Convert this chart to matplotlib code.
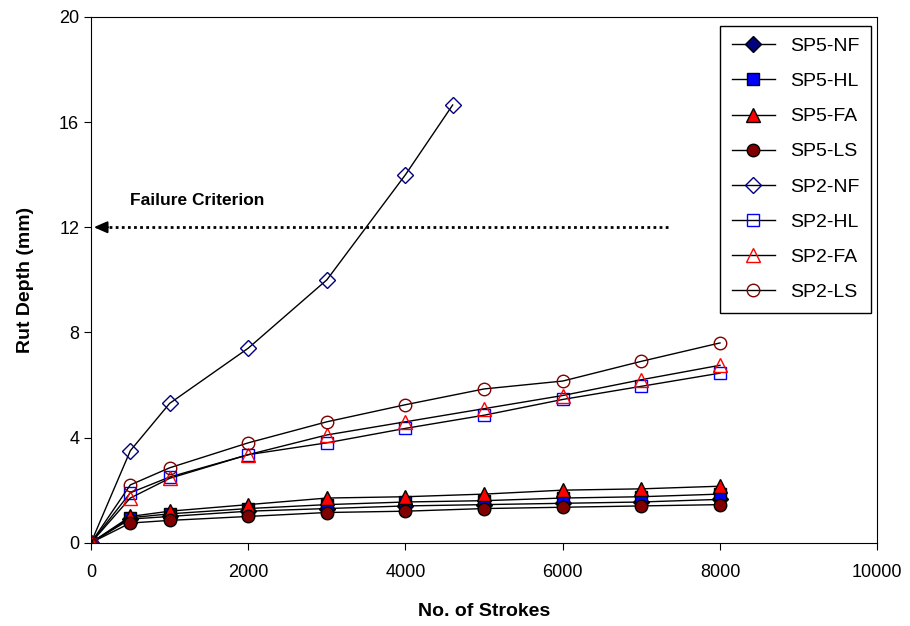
import numpy as np
import matplotlib
matplotlib.use("Agg")
import matplotlib.pyplot as plt

plt.rcParams['font.family'] = ['Liberation Sans', 'DejaVu Sans']

strokes = [0, 500, 1000, 2000, 3000, 4000, 5000, 6000, 7000, 8000]
strokes_sp2_nf = [0, 500, 1000, 2000, 3000, 4000, 4600]

sp5_nf = [0, 0.9, 1.0, 1.2, 1.3, 1.4, 1.45, 1.5, 1.55, 1.65]
sp5_hl = [0, 0.95, 1.1, 1.3, 1.45, 1.55, 1.6, 1.7, 1.75, 1.85]
sp5_fa = [0, 1.0, 1.2, 1.45, 1.7, 1.75, 1.85, 2.0, 2.05, 2.15]
sp5_ls = [0, 0.75, 0.85, 1.0, 1.15, 1.2, 1.3, 1.35, 1.4, 1.45]

sp2_nf = [0, 3.5, 5.3, 7.4, 10.0, 14.0, 16.65]
sp2_hl = [0, 1.9, 2.5, 3.35, 3.8, 4.35, 4.85, 5.45, 5.95, 6.45]
sp2_fa = [0, 1.7, 2.45, 3.35, 4.1, 4.6, 5.1, 5.6, 6.2, 6.75]
sp2_ls = [0, 2.2, 2.85, 3.8, 4.6, 5.25, 5.85, 6.15, 6.9, 7.6]

failure_depth = 12

fig = plt.figure(figsize=(9.1, 6.26), dpi=100)
ax = fig.add_axes([0.1, 0.133, 0.864, 0.84])

# filled markers for SP5, hollow for SP2
ax.plot(strokes, sp5_nf, '-', color='black', lw=1, marker='D', ms=8,
        mfc='#000080', mec='black', label='SP5-NF')
ax.plot(strokes, sp5_hl, '-', color='black', lw=1, marker='s', ms=9,
        mfc='#0000FF', mec='black', label='SP5-HL')
ax.plot(strokes, sp5_fa, '-', color='black', lw=1, marker='^', ms=10.5,
        mfc='#FF0000', mec='black', label='SP5-FA')
ax.plot(strokes, sp5_ls, '-', color='black', lw=1, marker='o', ms=9,
        mfc='#800000', mec='black', label='SP5-LS')
ax.plot(strokes_sp2_nf, sp2_nf, '-', color='black', lw=1, marker='D', ms=8,
        mfc='none', mec='#000080', label='SP2-NF')
ax.plot(strokes, sp2_hl, '-', color='black', lw=1, marker='s', ms=9,
        mfc='none', mec='#0000FF', label='SP2-HL')
ax.plot(strokes, sp2_fa, '-', color='black', lw=1, marker='^', ms=10.5,
        mfc='none', mec='#FF0000', label='SP2-FA')
ax.plot(strokes, sp2_ls, '-', color='black', lw=1, marker='o', ms=9,
        mfc='none', mec='#800000', label='SP2-LS')

# failure criterion
ax.plot([150, 7350], [failure_depth, failure_depth], color='black', lw=2,
        linestyle=(0, (1, 1.2)))
ax.annotate('', xy=(0, failure_depth), xytext=(250, failure_depth),
            arrowprops=dict(arrowstyle='-|>,head_length=0.8,head_width=0.35',
                            color='black', lw=1.5))
ax.text(500, 12.85, 'Failure Criterion', fontsize=12.5, fontweight='bold')

ax.set_xlim(0, 10000)
ax.set_ylim(0, 20)
ax.set_xticks(range(0, 10001, 2000))
ax.set_yticks(range(0, 21, 4))
ax.tick_params(labelsize=13, direction='out', length=5)
ax.tick_params(axis='x', pad=10)
ax.set_xlabel('No. of Strokes', fontsize=14, fontweight='bold', labelpad=16)
ax.set_ylabel('Rut Depth (mm)', fontsize=14, fontweight='bold', labelpad=18)

leg = ax.legend(loc='upper right', bbox_to_anchor=(0.9924, 0.983), fontsize=14,
                fancybox=False, edgecolor='black', framealpha=1,
                labelspacing=0.9, handlelength=2.2, borderpad=0.6,
                borderaxespad=0)
leg.get_frame().set_linewidth(1)

fig.savefig('out.png', dpi=100)
